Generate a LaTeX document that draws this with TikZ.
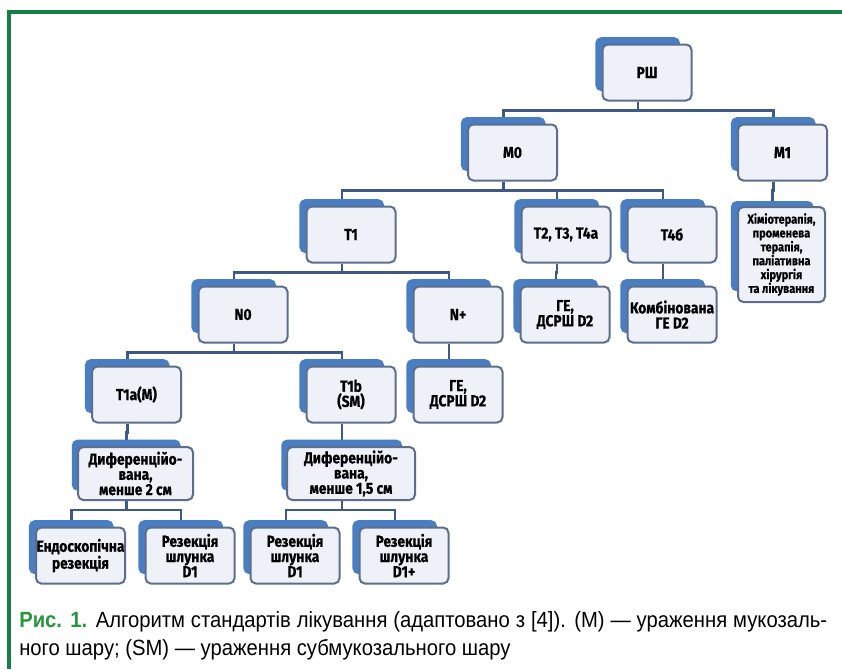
\documentclass[tikz,border=0pt]{standalone}
\usepackage{fontspec}
\setmainfont{Liberation Sans}
\newfontfamily\boxfont{Fira Sans}[FakeStretch=0.86, BoldFeatures={FakeBold=0.6}]
\newfontfamily\capfont{Liberation Sans}[FakeStretch=0.92]
\usetikzlibrary{shadows,backgrounds}

\definecolor{frameGreen}{RGB}{22,128,68}
\definecolor{capGreen}{RGB}{40,150,60}
\definecolor{shadowBlue}{RGB}{74,126,194}
\definecolor{boxLine}{RGB}{92,110,140}
\definecolor{boxFill}{RGB}{238,242,248}
\definecolor{linkBlue}{RGB}{62,90,132}

\begin{document}
\begin{tikzpicture}[x=0.75pt, y=-0.75pt,
        box/.style={draw=boxLine, line width=1.5pt, fill=boxFill, rounded corners=4pt,
            minimum width=66.75pt, minimum height=42pt, inner sep=0pt, align=center,
            font=\boxfont\bfseries\fontsize{12}{11.4}\selectfont,
            copy shadow={fill=shadowBlue, draw=shadowBlue, shadow xshift=-7.5pt,
                shadow yshift=6.75pt, shadow scale=0.93}},
        link/.style={draw=linkBlue, line width=1.6pt},
        caption/.style={anchor=north west, inner sep=0pt, text width=606pt, align=justify,
            font=\capfont\fontsize{16.5}{21}\selectfont}]

    \useasboundingbox (0,0) rectangle (842,669);
    \draw[frameGreen, line width=3pt] (9,669) -- (9,12) -- (842,12);

    % levels
    \node[box] (RS) at (647,72.5) {РШ};

    \node[box] (M0) at (512.5,152.5) {M0};
    \node[box] (M1) at (782.5,152.5) {M1};

    \node[box] (T1) at (351,234.5) {T1};
    \node[box] (T2) at (566,234.5) {T2, T3, T4a};
    \node[box] (T4) at (672,234.5) {T4б};
    \node[box, minimum width=65.25pt, minimum height=71.25pt,
        font=\boxfont\bfseries\fontsize{9.6}{10.4}\selectfont] (Chem) at (781.5,254.5)
        {Хіміотерапія,\\променева\\терапія,\\паліативна\\хірургія\\та лікування};

    \node[box] (N0) at (243,314.5) {N0};
    \node[box] (Np) at (458,314.5) {N+};
    \node[box] (GE1) at (565,314.5) {ГЕ,\\ДСРШ D2};
    \node[box] (Komb) at (672,314.5) {Комбінована\\ГЕ D2};

    \node[box] (T1a) at (136.5,394.5) {T1a(M)};
    \node[box] (T1b) at (351,394.5) {T1b\\(SM)};
    \node[box] (GE2) at (458,394.5) {ГЕ,\\ДСРШ D2};

    \node[box, minimum width=86.25pt, minimum height=39.75pt] (Dif1) at (135.5,473.5)
        {Диференційо-\\вана,\\менше 2 см};
    \node[box, minimum width=96pt, minimum height=39.75pt] (Dif2) at (351,473.5)
        {Диференційо-\\вана,\\менше 1,5 см};

    \node[box] (Endo) at (80.5,555.5) {Ендоскопічна\\резекція};
    \node[box] (Rez1) at (190,555.5) {Резекція\\шлунка\\D1};
    \node[box] (Rez2) at (295,555.5) {Резекція\\шлунка\\D1};
    \node[box] (Rez3) at (404,555.5) {Резекція\\шлунка\\D1+};

    % connectors
    \begin{scope}[on background layer]
        \fill[white] (0,0) rectangle (842,669);
        \foreach \p/\c in {RS/M0, RS/M1, M0/T1, M0/T2, M0/T4, M1/Chem, T1/N0, T1/Np,
                T2/GE1, T4/Komb, N0/T1a, N0/T1b, Np/GE2, T1a/Dif1, T1b/Dif2,
                Dif1/Endo, Dif1/Rez1, Dif2/Rez2, Dif2/Rez3}
            \draw[link] ([shift={(-9,0)}]\p.south) -- ++(0,9) -| ([shift={(-9,0)}]\c.north);
    \end{scope}

    \node[caption] (cap) at (19,611) {\textcolor{capGreen}{\bfseries Рис. 1.} Алгоритм стандартів лікування (адаптовано з [4]). (M) — ураження мукозаль-\linebreak ного шару; (SM) — ураження субмукозального шару};
\end{tikzpicture}
\end{document}
